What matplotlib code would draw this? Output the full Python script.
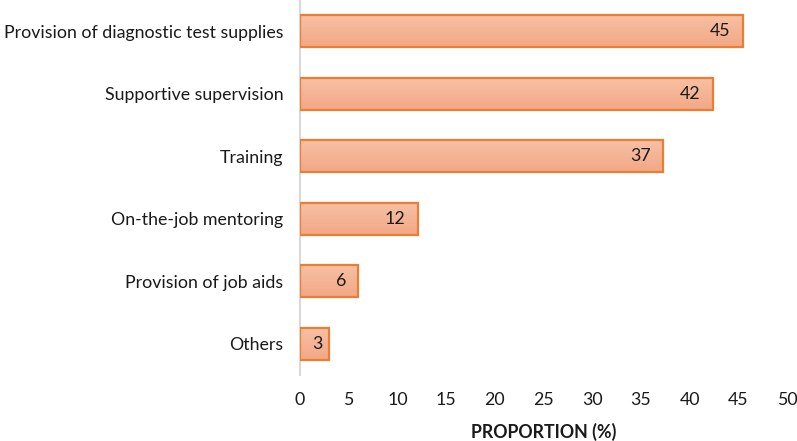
import matplotlib
matplotlib.use("Agg")
import matplotlib.pyplot as plt
import numpy as np
from matplotlib.colors import LinearSegmentedColormap

categories = ["Provision of diagnostic test supplies", "Supportive supervision", "Training",
              "On-the-job mentoring", "Provision of job aids", "Others"]
values = [45.5, 42.4, 37.3, 12.1, 6.0, 3.0]
labels = ["45", "42", "37", "12", "6", "3"]
xticks = [0, 5, 10, 15, 20, 25, 30, 35, 40, 45, 50]

plt.rcParams['font.family'] = ['Lato', 'DejaVu Sans']
FS = 12.8

fig = plt.figure(figsize=(7.97, 4.41), dpi=100)
ax = fig.add_axes([300/797, 1 - 375/441, 487/797, 375/441])

h = 0.51
grad = np.linspace(0, 1, 50).reshape(-1, 1)
cmap = LinearSegmentedColormap.from_list("g", ["#F7C0A4", "#F2A886"])
y = np.arange(len(categories))
for i, v in enumerate(values):
    ax.imshow(grad, extent=(0, v, i + h/2, i - h/2), cmap=cmap, aspect='auto', zorder=2,
              origin='upper')
ax.barh(y, values, height=h, facecolor='none', edgecolor='#ED7D31', linewidth=1.6, zorder=3)
for i, (v, lab) in enumerate(zip(values, labels)):
    if v < 4:
        ax.annotate(lab, (v / 2, i), xytext=(2, 0), textcoords='offset points',
                    ha='center', va='center', fontsize=FS, color='#1a1a1a', zorder=4)
    else:
        ax.annotate(lab, (v, i), xytext=(-9, 0), textcoords='offset points',
                    ha='right', va='center', fontsize=FS, color='#1a1a1a', zorder=4)

ax.set_xlim(0, 50)
ax.set_ylim(5.5, -0.5)
ax.set_yticks(y)
ax.set_yticklabels(categories, fontsize=FS, color='#1a1a1a')
ax.set_xticks(xticks)
ax.set_xticklabels([str(t) for t in xticks], fontsize=FS, color='#1a1a1a')
ax.tick_params(axis='both', length=0)
ax.tick_params(axis='x', pad=12)
ax.tick_params(axis='y', pad=12)
for s in ['top', 'right', 'bottom']:
    ax.spines[s].set_visible(False)
ax.spines['left'].set_color('#D9D9D9')
ax.spines['left'].set_linewidth(1.5)
ax.set_xlabel("PROPORTION (%)", fontsize=FS, fontweight='bold', color='#1a1a1a', labelpad=11)

fig.savefig("out.png", dpi=100)
